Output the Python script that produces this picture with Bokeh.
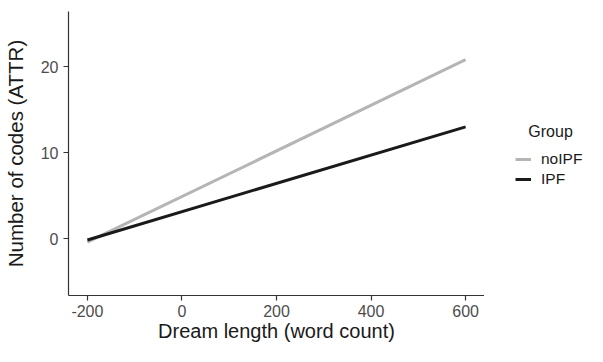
from bokeh.plotting import figure
from bokeh.models import Range1d, Legend, LegendItem, FixedTicker
from bokeh.layouts import row
from bokeh.embed import file_html
from bokeh.resources import INLINE

# Data
x_vals = [-200, 600]
noipf_y = [-0.4, 20.8]
ipf_y = [-0.15, 13.0]
groups = ["noIPF", "IPF"]
colors = ["#b5b5b5", "#1a1a1a"]
x_ticks = [-200, 0, 200, 400, 600]
y_ticks = [0, 10, 20]

FONT = "Liberation Sans"

p = figure(width=484, height=346, output_backend="svg", toolbar_location=None,
           x_range=Range1d(-240, 640), y_range=Range1d(-6.6, 26.4),
           min_border_left=68, min_border_right=0, min_border_top=11, min_border_bottom=51)
p.outline_line_color = None
p.grid.visible = False
p.background_fill_color = "white"
p.border_fill_color = "white"

p.line(x_vals, noipf_y, line_color=colors[0], line_width=3)
p.line(x_vals, ipf_y, line_color=colors[1], line_width=3)

for ax in (p.xaxis[0], p.yaxis[0]):
    ax.axis_line_color = "#333333"
    ax.axis_line_width = 1.2
    ax.major_tick_line_color = "#333333"
    ax.major_tick_line_width = 1.2
    ax.major_tick_out = 5
    ax.major_tick_in = 0
    ax.minor_tick_line_color = None
    ax.major_label_text_font = FONT
    ax.major_label_text_font_size = "16px"
    ax.major_label_text_color = "#4d4d4d"
    ax.axis_label_text_font = FONT
    ax.axis_label_text_color = "#1a1a1a"
    ax.axis_label_text_font_style = "normal"

p.xaxis.axis_label_text_font_size = "20px"
p.yaxis.axis_label_text_font_size = "20.5px"
p.xaxis.ticker = FixedTicker(ticks=x_ticks)
p.yaxis.ticker = FixedTicker(ticks=y_ticks)
p.xaxis.major_label_overrides = {t: str(t) for t in x_ticks}
p.xaxis.axis_label = "Dream length (word count)"
p.yaxis.axis_label = "Number of codes (ATTR)"
p.xaxis.major_label_standoff = 4
p.yaxis.major_label_standoff = 5
p.xaxis.axis_label_standoff = 0
p.yaxis.axis_label_standoff = 11

# Legend panel (invisible key lines: their data lie outside this panel's ranges)
p2 = figure(width=103, height=346, output_backend="svg", toolbar_location=None,
            x_range=Range1d(0, 1), y_range=Range1d(0, 1),
            min_border_left=0, min_border_right=0, min_border_top=0, min_border_bottom=0)
p2.axis.visible = False
p2.grid.visible = False
p2.outline_line_color = None
p2.background_fill_color = "white"
p2.border_fill_color = "white"
lr1 = p2.line(x_vals, noipf_y, line_color=colors[0], line_width=3)
lr2 = p2.line(x_vals, ipf_y, line_color=colors[1], line_width=3)

legend = Legend(items=[LegendItem(label=groups[0], renderers=[lr1]),
                       LegendItem(label=groups[1], renderers=[lr2])],
                title="\u00a0\u00a0\u00a0Group",
                title_text_font=FONT, title_text_font_size="16px", title_text_color="#1a1a1a",
                title_text_font_style="normal", title_standoff=8,
                location=(31, 106), border_line_color=None, background_fill_alpha=0,
                padding=0, margin=0, spacing=0, label_height=20, glyph_height=20,
                glyph_width=16, label_standoff=10,
                label_text_font=FONT, label_text_font_size="15.5px", label_text_color="#1a1a1a")
p2.add_layout(legend)

layout = row(p, p2)
open("out.html", "w").write(file_html(layout, INLINE))
